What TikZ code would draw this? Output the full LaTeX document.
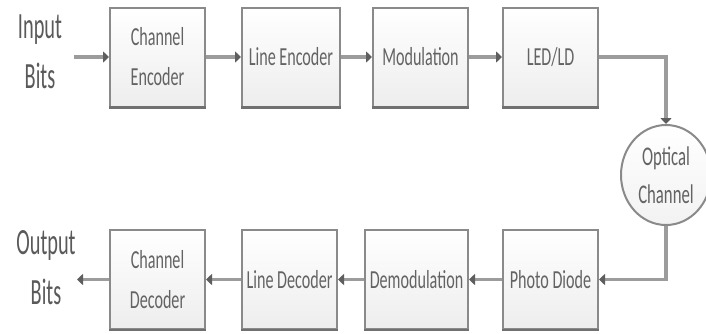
\documentclass[tikz,border=0pt]{standalone}
\usepackage{fontspec}
\newfontfamily\boxfont[FakeStretch=0.62]{Carlito}
\newfontfamily\lblfont[FakeStretch=0.55]{Carlito}
\usetikzlibrary{arrows.meta,shapes.geometric}
\definecolor{linec}{HTML}{9C9C9C}
\definecolor{tipc}{HTML}{5E5E5E}
\definecolor{edgec}{HTML}{8A8A8A}
\definecolor{shadc}{HTML}{707070}
\definecolor{txtc}{HTML}{636363}
\definecolor{lblc}{HTML}{5A5A5A}
\tikzset{
  blockbox/.style={rectangle, draw=edgec, line width=2pt, minimum height=99pt,
    inner sep=0pt, top color=white, bottom color=black!7, text=txtc,
    font=\boxfont\fontsize{26}{40}\selectfont, align=center},
  chanell/.style={ellipse, draw=edgec, line width=2pt, minimum width=90pt,
    minimum height=100pt, inner sep=0pt, top color=white, bottom color=black!5,
    text=txtc, font=\boxfont\fontsize{27}{38}\selectfont, align=center},
  conn/.style={draw=linec, line width=3.5pt,
    -{Triangle[length=6pt,width=11pt,color=tipc]}},
  shadowline/.style={draw=shadc, line width=2.5pt},
  lbl/.style={text=lblc, font=\lblfont\fontsize{37}{50}\selectfont, align=center}
}
\begin{document}
\begin{tikzpicture}[x=1pt,y=-1pt]
\useasboundingbox (0,0) rectangle (706,333);
\fill[white] (0,0) rectangle (706,333);
% top row
\node[blockbox, minimum width=95pt] (ce)  at (157.5,57) {Channel\\Encoder};
\node[blockbox, minimum width=98pt] (le)  at (291,57) {Line Encoder};
\node[blockbox, minimum width=95pt] (mod) at (420.5,57) {Modulation};
\node[blockbox, minimum width=95pt] (led) at (550.5,57) {LED/LD};
% channel
\node[chanell] (oc) at (666,175) {Optical\\Channel};
% bottom row
\node[blockbox, minimum width=95pt] (pd)  at (550.5,279.5) {Photo Diode};
\node[blockbox, minimum width=103pt] (dem) at (416.5,279.5) {Demodulation};
\node[blockbox, minimum width=95pt] (ld)  at (289.5,279.5) {Line Decoder};
\node[blockbox, minimum width=95pt] (cd)  at (157.5,279.5) {Channel\\Decoder};
% darker lower edges
\foreach \b in {ce,le,mod,led,pd,dem,ld,cd}
  \draw[shadowline] (\b.south west) -- (\b.south east);
% labels
\node[lbl] (inl) at (40,52) {Input\\Bits};
\node[lbl] (outl) at (46,268) {Output\\Bits};
\coordinate (inpt) at (74,57);
\coordinate (outpt) at (77,279.5);
% connectors
\draw[conn] (inpt) -- (ce.west);
\draw[conn] (ce) -- (le);
\draw[conn] (le) -- (mod);
\draw[conn] (mod) -- (led);
\draw[conn] (led.east) -| (oc.north);
\draw[conn] (oc.south) |- (pd.east);
\draw[conn] (pd) -- (dem);
\draw[conn] (dem) -- (ld);
\draw[conn] (ld) -- (cd);
\draw[conn] (cd.west) -- (outpt);
\end{tikzpicture}
\end{document}
